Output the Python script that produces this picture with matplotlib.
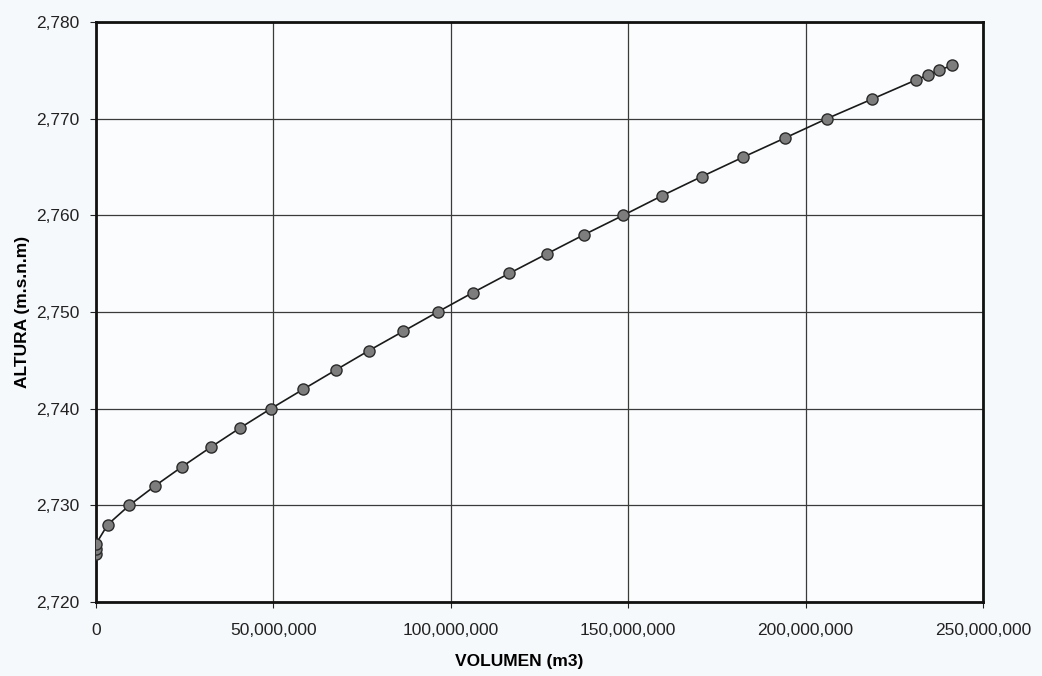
import matplotlib
matplotlib.use("Agg")
import matplotlib.pyplot as plt
from matplotlib.ticker import FuncFormatter

# Curva altura-volumen del embalse
volumen_m3 = [0.0, 0.0, 0.0, 3.3e6, 9.4e6, 16.6e6, 24.3e6, 32.3e6, 40.6e6,
              49.3e6, 58.4e6, 67.6e6, 76.9e6, 86.6e6, 96.3e6, 106.2e6,
              116.5e6, 127.0e6, 137.6e6, 148.6e6, 159.4e6, 170.7e6, 182.3e6,
              194.2e6, 206.0e6, 218.6e6, 231.1e6, 234.4e6, 237.6e6, 241.2e6]
altura_msnm = [2725.0, 2725.5, 2726.0, 2728, 2730, 2732, 2734, 2736, 2738,
               2740, 2742, 2744, 2746, 2748, 2750, 2752, 2754, 2756, 2758,
               2760, 2762, 2764, 2766, 2768, 2770, 2772, 2774, 2774.5,
               2775.0, 2775.5]

x_ticks = [0, 50e6, 100e6, 150e6, 200e6, 250e6]
y_ticks = [2720, 2730, 2740, 2750, 2760, 2770, 2780]

BG = "#f6f9fb"

plt.rcParams["font.family"] = ["Liberation Sans", "DejaVu Sans"]

fig = plt.figure(figsize=(10.42, 6.76), dpi=100)
fig.patch.set_facecolor(BG)
ax = fig.add_axes([0.0921, 0.1095, 0.8513, 0.858])
ax.set_facecolor("#fbfcfd")

ax.plot(volumen_m3, altura_msnm, color="#1a1a1a", lw=1.2, zorder=3,
        marker="o", markersize=8, markerfacecolor="#7d7d7d",
        markeredgecolor="#2a2a2a", markeredgewidth=1.0)

ax.set_xlim(0, 250e6)
ax.set_ylim(2720, 2780)
ax.set_xticks(x_ticks)
ax.set_yticks(y_ticks)
fmt = FuncFormatter(lambda v, p: f"{v:,.0f}")
ax.xaxis.set_major_formatter(fmt)
ax.yaxis.set_major_formatter(fmt)

ax.grid(True, color="#3a3a3a", lw=0.9, zorder=1)
for s in ax.spines.values():
    s.set_linewidth(2.0)
    s.set_color("#111111")

ax.tick_params(axis="both", labelsize=12.5, colors="#222222", length=4,
               width=0.8)
ax.tick_params(axis="x", pad=11)
ax.tick_params(axis="y", pad=8)

ax.set_xlabel("VOLUMEN (m3)", fontsize=12.5, fontweight="bold")
ax.set_ylabel("ALTURA (m.s.n.m)", fontsize=12.5, fontweight="bold")
# label positions in axes-fraction coordinates
ax.xaxis.set_label_coords(0.477, -0.089)
ax.yaxis.set_label_coords(-0.0744, 0.5)

fig.savefig("out.png", dpi=100, facecolor=BG)
